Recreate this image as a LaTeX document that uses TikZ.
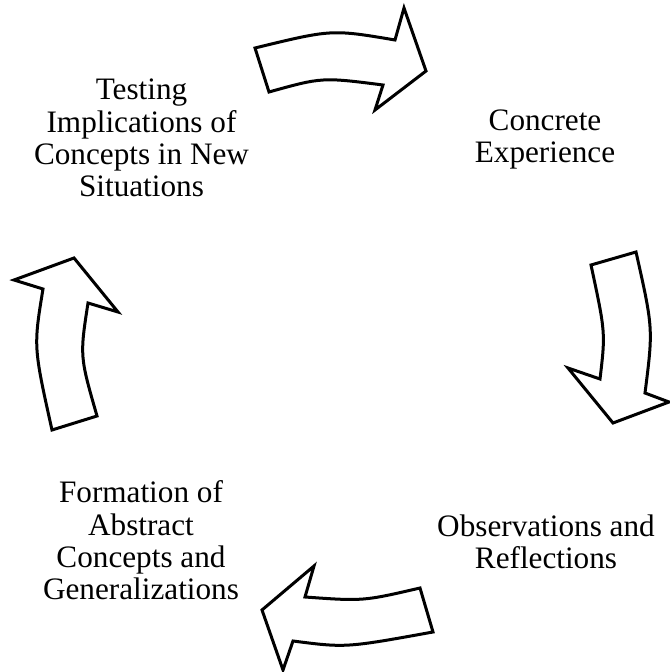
\documentclass[tikz,border=0pt]{standalone}
\usepackage{fontspec}
\setmainfont{Liberation Serif}
\begin{document}
\begin{tikzpicture}[x=0.25mm,y=0.25mm,
        cyclearrow/.style={draw,line width=0.75mm,line join=miter,fill=white},
        stage/.style={align=center,anchor=base,font=\fontsize{22.2}{23.1}\selectfont}]
        \useasboundingbox (0,0) rectangle (670,672);

        %%%%%%% Arrows %%%%%%%%
        \draw[cyclearrow] (255,624) .. controls (331.7,642.7) .. (395,632) -- (404,664) -- (426,601)
            -- (375,562) -- (383,587) .. controls (322,594.8) .. (269,580) -- cycle;
        \draw[cyclearrow] (636,420) .. controls (653.2,343.5) .. (645,279) -- (669,270) -- (613,249)
            -- (568,304) -- (600,293) .. controls (605.5,339.3) .. (591,407) -- cycle;
        \draw[cyclearrow] (420,84) .. controls (363.2,70.8) .. (305,75) -- (314,106) -- (262,62)
            -- (283,2) -- (293,31) .. controls (345.7,24.2) .. (433,40) -- cycle;
        \draw[cyclearrow] (97,256) .. controls (79.8,315.8) .. (88,369) -- (118,360) -- (74,414)
            -- (14,392) -- (43,383) .. controls (33.5,325.2) .. (52,242) -- cycle;

        %%%%%%% Stages %%%%%%%%
        \node[stage] (experience) at (545,509) {Concrete\\Experience};
        \node[stage] (reflection) at (546,103) {Observations and\\Reflections};
        \node[stage] (abstraction) at (141,72) {Formation of\\Abstract\\Concepts and\\Generalizations};
        \node[stage] (testing) at (141.5,475) {Testing\\Implications of\\Concepts in New\\Situations};
\end{tikzpicture}
\end{document}
